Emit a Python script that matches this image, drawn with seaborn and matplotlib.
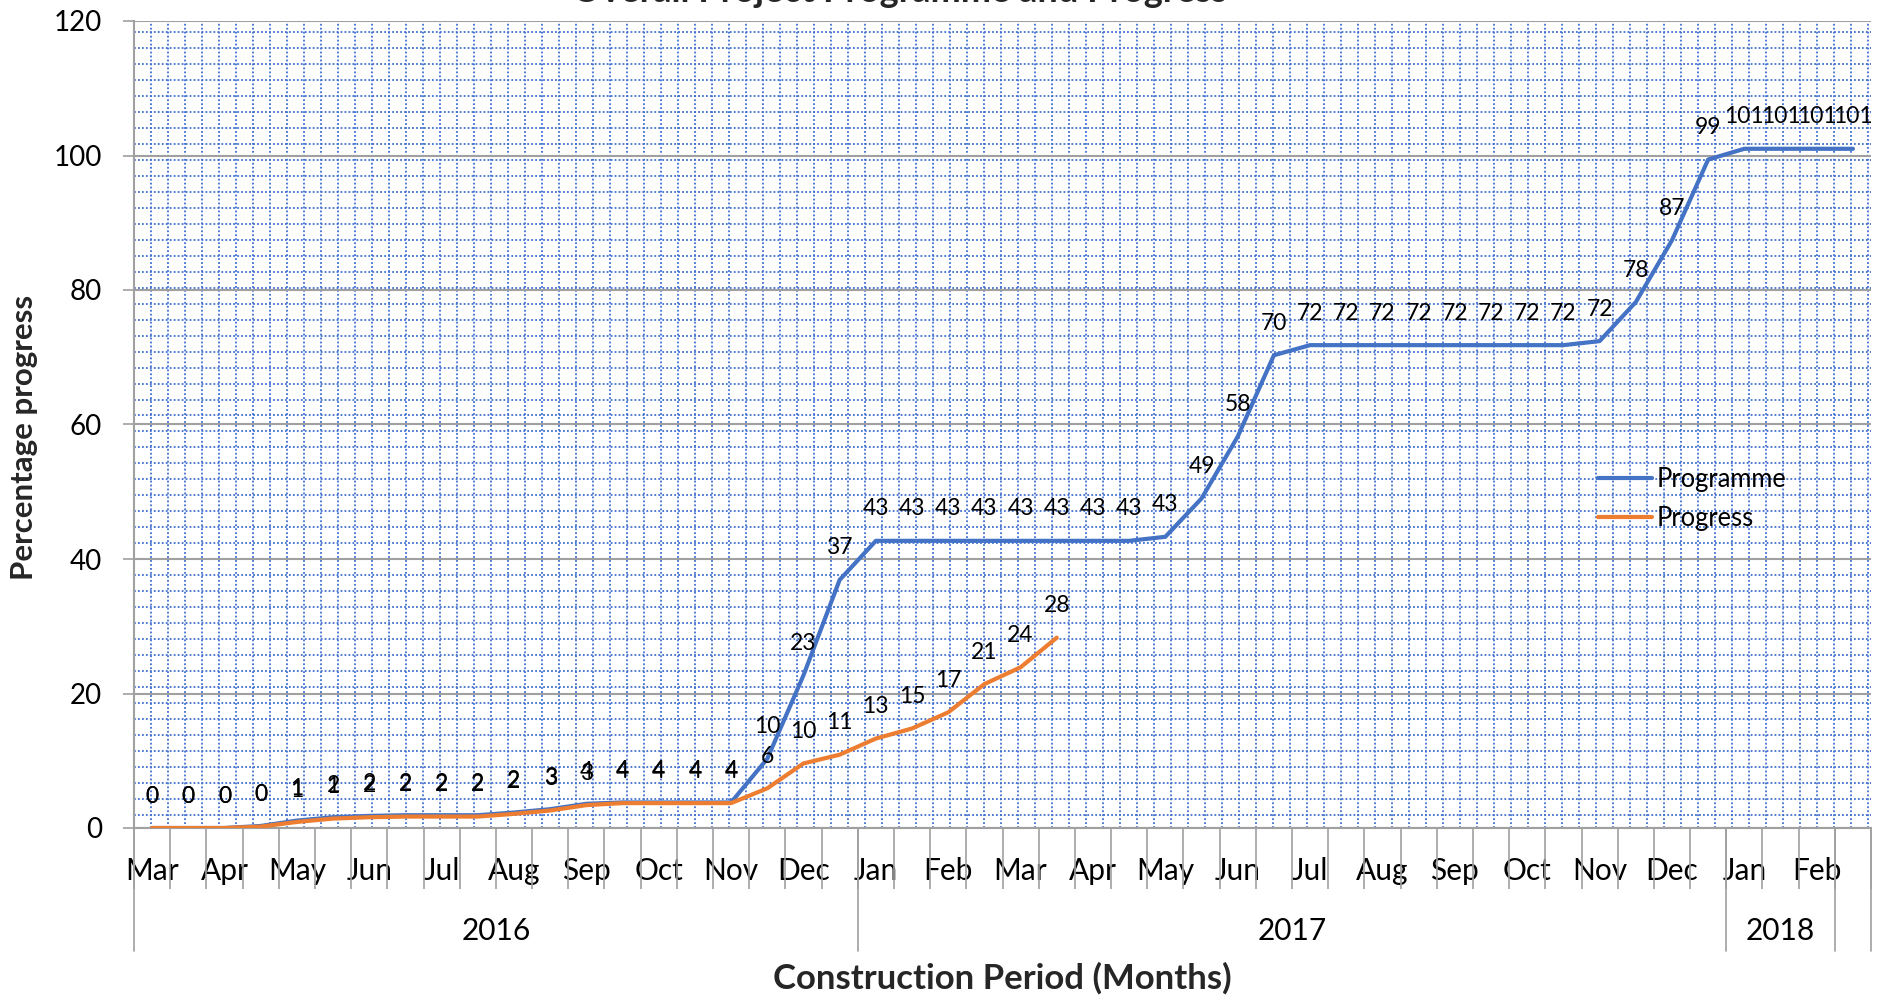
import numpy as np
import pandas as pd
import matplotlib
matplotlib.use("Agg")
import matplotlib.pyplot as plt
import matplotlib.transforms as mtransforms
import seaborn as sns

# ---------------- data ----------------
months = ["Mar", "Apr", "May", "Jun", "Jul", "Aug", "Sep", "Oct", "Nov", "Dec",
          "Jan", "Feb", "Mar", "Apr", "May", "Jun", "Jul", "Aug", "Sep", "Oct",
          "Nov", "Dec", "Jan", "Feb"]
years = ["2016", "2017", "2018", ""]
year_spans = [20, 24, 3, 1]          # half-month periods in each year group

programme = [0, 0, 0, 0.3, 1.1, 1.6, 1.8, 1.9, 1.9, 1.9, 2.3, 2.8, 3.6, 3.8, 3.8, 3.8, 3.8,
             10.3, 22.7, 36.9, 42.7, 42.7, 42.7, 42.7, 42.7, 42.7, 42.7, 42.7, 43.3,
             49.0, 58.2, 70.3, 71.8, 71.8, 71.8, 71.8, 71.8, 71.8, 71.8, 71.8, 72.4,
             78.2, 87.4, 99.4, 101.0, 101.0, 101.0, 101.0]
progress = [0, 0, 0, 0.2, 0.9, 1.4, 1.6, 1.7, 1.7, 1.7, 2.1, 2.6, 3.4, 3.7, 3.7, 3.7, 3.7,
            5.9, 9.6, 10.9, 13.3, 14.8, 17.2, 21.4, 23.9, 28.3]

series_names = ["Programme", "Progress"]
colors = {"Programme": "#4472C4", "Progress": "#ED7D31"}

# ---------------- style ----------------
sns.set_style("white")
plt.rcParams["font.family"] = ["Lato", "DejaVu Sans"]

n = len(programme)
x = np.arange(n)
df = pd.concat([
    pd.DataFrame({"period": x, "value": programme, "series": "Programme"}),
    pd.DataFrame({"period": x[:len(progress)], "value": progress, "series": "Progress"}),
], ignore_index=True)

W, H = 1888, 1000
fig = plt.figure(figsize=(W / 100, H / 100), dpi=100)
L, R, T, B = 134, 1871, 21, 828
ax = fig.add_axes([L / W, 1 - B / H, (R - L) / W, (B - T) / H])

ax.set_xlim(-0.5, n - 0.5)
ax.set_ylim(0, 120)

# dotted blue grid (behind everything)
hminor = np.linspace(1.9, 118.4, 50)
vminor = np.linspace(-0.5 + 0.47, n - 0.5 - 0.09, 102)
ax.hlines(hminor, -0.5, n - 0.5, colors="#3F6FCF", linewidth=1.3,
          linestyles=(0, (1.0, 1.2)), zorder=0.5)
ax.vlines(vminor, 0, 120, colors="#3F6FCF", linewidth=1.3,
          linestyles=(0, (1.0, 1.2)), zorder=0.5)
# major horizontal gridlines
ax.set_yticks(np.arange(0, 121, 20))
ax.yaxis.grid(True, color="#A0A0A0", linewidth=1.5, zorder=0.8)
ax.set_axisbelow(True)

sns.lineplot(data=df, x="period", y="value", hue="series", hue_order=series_names,
             palette=colors, linewidth=3.0, ax=ax, legend=False, sort=False,
             estimator=None, zorder=3)

# data labels
for name, vals in (("Programme", programme), ("Progress", progress)):
    for i, v in enumerate(vals):
        ax.annotate(f"{int(np.floor(v + 0.5))}", (i, v), xytext=(0, 23),
                    textcoords="offset points", ha="center", va="center",
                    fontsize=16.5, color="black", zorder=4)

# spines
for s in ("top", "right"):
    ax.spines[s].set_visible(False)
for s in ("left", "bottom"):
    ax.spines[s].set_color("#A0A0A0")
    ax.spines[s].set_linewidth(1.5)

# y ticks
ax.tick_params(axis="y", which="major", length=8, width=1.2, color="#A0A0A0",
               pad=15, labelsize=20, labelcolor="black", left=True)
ax.set_ylabel("")

# x: month labels on every second half-month period, tick marks on boundaries
labels = []
for i in range(n):
    labels.append(months[i // 2] if i % 2 == 0 else "")
ax.set_xticks(x)
ax.set_xticklabels(labels)
ax.set_xticks(np.arange(-0.5, n, 1.0), minor=True)
ax.tick_params(axis="x", which="major", length=0, pad=21, labelsize=21.5, labelcolor="black")
ax.tick_params(axis="x", which="minor", length=44, width=1.2, color="#A0A0A0", bottom=True)
ax.set_xlabel("")

# year grouping row
trans = mtransforms.blended_transform_factory(ax.transData, ax.transAxes)
edges = np.concatenate([[0], np.cumsum(year_spans)]) - 0.5
for e in edges:
    ax.plot([e, e], [0, -123 / (B - T)], transform=trans, color="#A0A0A0",
            linewidth=1.2, clip_on=False, zorder=1)
for yr, a, b in zip(years, edges[:-1], edges[1:]):
    ax.text((a + b) / 2, -103 / (B - T), yr, transform=trans, ha="center",
            va="center", fontsize=21.5, color="black")

# axis titles
fig.text(24 / W, 1 - 437 / H, "Percentage progress", rotation=90, ha="center",
         va="center", fontsize=22.5, fontweight="bold")
fig.text((L + R) / 2 / W, 1 - 978 / H, "Construction Period (Months)", ha="center",
         va="center", fontsize=25, fontweight="bold")
# chart title, cropped at the very top as in the source image
fig.text(900 / W, 1 - 2 / H, "Overall Project Programme and Progress", ha="center",
         va="baseline", fontsize=26, fontweight="bold")

# legend
handles = ax.get_lines()[:2]
leg = fig.legend(handles, series_names, loc="upper left",
                 bbox_to_anchor=(1598 / W, 1 - 467 / H), frameon=False,
                 fontsize=18.4, handlelength=2.1, handletextpad=0.2,
                 labelspacing=0.55, borderpad=0, borderaxespad=0)
for t in leg.get_texts():
    t.set_color("black")

fig.savefig("out.png", dpi=100, facecolor="white")
